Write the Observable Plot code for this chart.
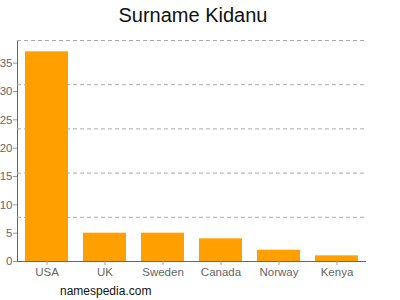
<!DOCTYPE html>
<html>
<head>
<meta charset="utf-8">
<script src="https://cdn.jsdelivr.net/npm/d3@7"></script>
<script src="https://cdn.jsdelivr.net/npm/@observablehq/plot@0.6"></script>
<style>
  html, body { margin: 0; padding: 0; background: #fff; }
  body { width: 400px; height: 300px; overflow: hidden; font-family: "Liberation Sans", Arial, sans-serif; }
  #title { height: 30px; line-height: 30px; text-align: center; font-size: 20px; color: #111; padding-right: 14px; }
  #caption { font-size: 12px; color: #111; padding-left: 60px; line-height: 18px; margin-top: 4px; }
  svg { display: block; }
</style>
</head>
<body>
<div id="title">Surname Kidanu</div>
<div id="chart"></div>
<div id="caption">namespedia.com</div>
<script>
const countries = ["USA", "UK", "Sweden", "Canada", "Norway", "Kenya"];
const counts = [37, 5, 5, 4, 2, 1];
const yTicks = [0, 5, 10, 15, 20, 25, 30, 35];
const gridValues = [7.8, 15.6, 23.4, 31.2, 39];

const data = countries.map((c, i) => ({country: c, count: counts[i]}));

const chart = Plot.plot({
  width: 400,
  height: 248,
  marginLeft: 17,
  marginRight: 35,
  marginTop: 10,
  marginBottom: 17,
  style: {fontFamily: "Liberation Sans, Arial, sans-serif", fontSize: "11.5px", color: "#666", background: "#fff"},
  x: {domain: countries, paddingInner: 0.26, paddingOuter: 0.13, label: null, tickSize: 4, tickPadding: 2, line: true},
  y: {domain: [0, 39], label: null, ticks: yTicks, tickSize: 4, tickPadding: 1, line: true},
  marks: [
    Plot.ruleY(gridValues, {stroke: "#aaa", strokeDasharray: "4,3", strokeWidth: 1}),
    Plot.barY(data, {x: "country", y: "count", fill: "#ffa000"})
  ]
});
chart.querySelectorAll('g[aria-label="x-axis"] path, g[aria-label="y-axis"] path, g[aria-label="x-axis tick"] path, g[aria-label="y-axis tick"] path').forEach(p => p.setAttribute("stroke", "#999"));
document.getElementById("chart").appendChild(chart);
</script>
</body>
</html>
